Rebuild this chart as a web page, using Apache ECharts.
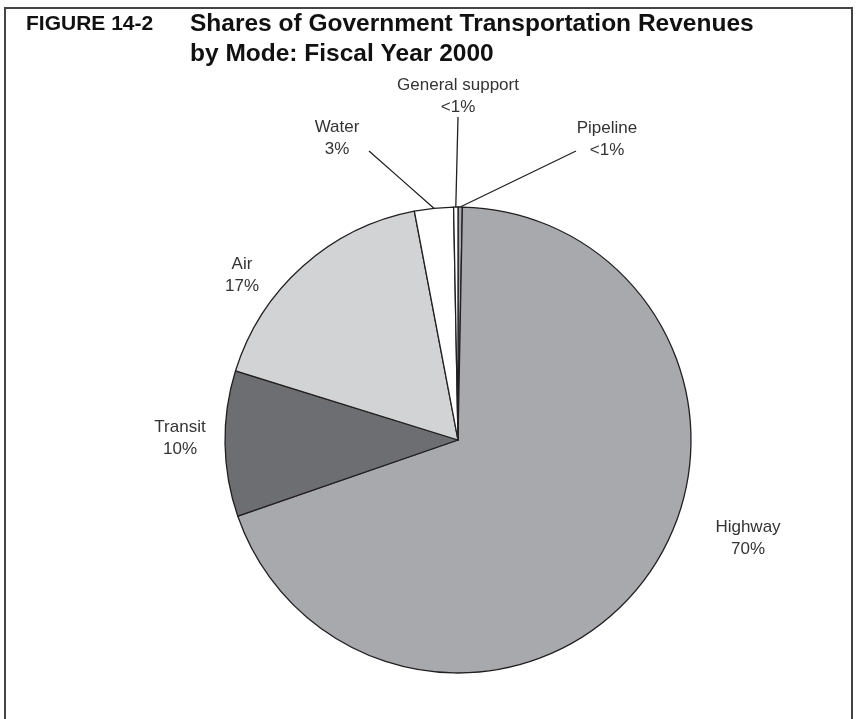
<!DOCTYPE html>
<html><head><meta charset="utf-8">
<script src="https://cdn.jsdelivr.net/npm/echarts@6/dist/echarts.min.js"></script>
<style>html,body{margin:0;padding:0;background:#fff}#c{width:859px;height:719px}</style>
</head><body><div id="c"></div>
<script>
const categories = ['Pipeline', 'Highway', 'Transit', 'Air', 'Water', 'General support'];
const values = [0.3, 69.4, 10.1, 17.2, 2.7, 0.3];
const shareLabels = ['<1%', '70%', '10%', '17%', '3%', '<1%'];
const figureNumber = 'FIGURE 14-2';
const titleLines = ['Shares of Government Transportation Revenues', 'by Mode: Fiscal Year 2000'];

const sliceColor = {
  'Pipeline': '#a7a9ac', 'Highway': '#a7a9ac', 'Transit': '#6d6e71',
  'Air': '#d1d3d4', 'Water': '#ffffff', 'General support': '#ffffff'
};
const labelSpot = {
  'Pipeline': { x: 607, y: 139, end: [576, 151] },
  'Highway': { x: 748, y: 538 },
  'Transit': { x: 180, y: 438 },
  'Air': { x: 242, y: 275 },
  'Water': { x: 337, y: 138, end: [369, 151] },
  'General support': { x: 458, y: 96, end: [458, 117] }
};
const FONT = '"Liberation Sans Narrow", "Liberation Sans", Arial, sans-serif';

const chart = echarts.init(document.getElementById('c'), null, { renderer: 'canvas' });
chart.setOption({
  animation: false,
  backgroundColor: '#ffffff',
  title: [
    { text: figureNumber, left: 21, top: 4,
      textStyle: { fontFamily: FONT, fontWeight: 'bold', fontSize: 21, color: '#111', lineHeight: 30 } },
    { text: titleLines.join('\n'), left: 185, top: 4,
      textStyle: { fontFamily: FONT, fontWeight: 'bold', fontSize: 24.5, color: '#111', lineHeight: 30 } }
  ],
  graphic: [
    { type: 'polyline', shape: { points: [[5, 719], [5, 8], [852, 8], [852, 719]] },
      style: { stroke: '#444', lineWidth: 2, fill: null } }
  ],
  series: [{
    type: 'pie',
    center: [458, 440],
    radius: 233,
    startAngle: 90,
    clockwise: true,
    avoidLabelOverlap: false,
    itemStyle: { borderColor: '#231f20', borderWidth: 1.3 },
    emphasis: { disabled: true },
    label: {
      show: true, position: 'outside',
      fontFamily: FONT, fontSize: 17, color: '#333', lineHeight: 22, align: 'center',
      formatter: p => p.name + '\n' + shareLabels[p.dataIndex]
    },
    labelLine: { show: false, lineStyle: { color: '#231f20', width: 1.3 } },
    labelLayout: function (p) {
      const s = labelSpot[categories[p.dataIndex]];
      const r = { x: s.x, y: s.y, align: 'center', verticalAlign: 'middle' };
      if (s.end && p.labelLinePoints) {
        const a = p.labelLinePoints[0];
        r.labelLinePoints = [a, [(a[0] + s.end[0]) / 2, (a[1] + s.end[1]) / 2], s.end];
      }
      return r;
    },
    data: categories.map((c, i) => ({
      name: c, value: values[i],
      itemStyle: { color: sliceColor[c] },
      labelLine: { show: !!labelSpot[c].end }
    }))
  }]
});
</script></body></html>
